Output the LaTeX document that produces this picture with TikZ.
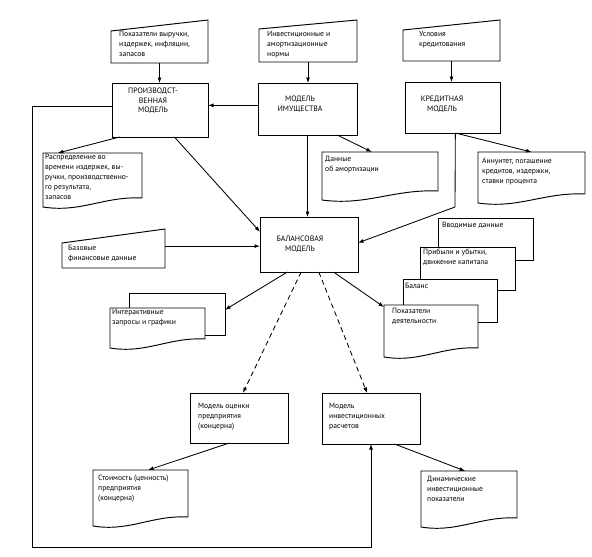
\documentclass[tikz,border=0pt]{standalone}
\usepackage{fontspec}
\setmainfont{PT Sans}
\usetikzlibrary{arrows.meta,calc,fit}
\newcommand\bbnode[5]{\path (#2,#3) coordinate (#1-a) (#4,#5) coordinate (#1-b);
  \node[fit=(#1-a)(#1-b), inner sep=0pt, outer sep=0pt] (#1) {};}
\newcommand\procbox[5]{\bbnode{#1}{#2}{#3}{#4}{#5}\draw[shp] (#1.north west) rectangle (#1.south east);}
\newcommand\maninput[6]{\draw[shp] (#2,#3) -- (#4,#5) -- (#4,#6) -- (#2,#6) -- cycle;
  \bbnode{#1}{#2}{#5}{#4}{#6}}
\newcommand\docshape[5]{\draw[shp] (#2,#3) -- (#4,#3) -- (#4,#5-9)
  .. controls ({#4-0.38*(#4-#2)},#5-11) and ({#2+0.38*(#4-#2)},#5+6) .. (#2,#5) -- cycle;
  \bbnode{#1}{#2}{#3}{#4}{#5}}
\begin{document}
\begin{tikzpicture}[x=1pt,y=-1pt,
  shp/.style={draw, line width=0.95pt, fill=white},
  arr/.style={draw, line width=0.85pt, -{Latex[length=5.5pt,width=4pt]}},
  darr/.style={arr, dash pattern=on 5pt off 3.5pt},
  lbl/.style={font=\fontsize{7.6}{10}\selectfont, align=left, inner sep=0pt, anchor=north west},
  ttl/.style={font=\fontsize{7.8}{9.5}\selectfont, align=center, inner sep=0pt}]
\useasboundingbox (0,0) rectangle (592,557);

% top inputs
\maninput{in1}{111}{31}{208}{20}{63}
\node[lbl] (t-in1) at (119,31) {Показатели выручки,\\издержек, инфляции,\\запасов};
\maninput{in2}{259}{29}{357}{20}{62}
\node[lbl] (t-in2) at (267,31) {Инвестиционные и\\амортизационные\\нормы};
\maninput{in3}{403}{30}{500}{20}{61}
\node[lbl] (t-in3) at (419,31) {Условия\\кредитования};

% models
\procbox{prod}{112}{83}{208}{137}
\node[ttl] (t-prod) at (153,101) {ПРОИЗВОДСТ-\\ВЕННАЯ\\МОДЕЛЬ};
\procbox{prop}{258}{83}{357}{135}
\node[ttl] (t-prop) at (300,104) {МОДЕЛЬ\\ИМУЩЕСТВА};
\procbox{cred}{405}{82}{500}{133}
\node[ttl] (t-cred) at (442,104) {КРЕДИТНАЯ\\МОДЕЛЬ};

% documents row 2
\docshape{distr}{43}{153}{142}{207}
\node[lbl] (t-distr) at (45,154) {Распределение во\\времени издержек, вы-\\ручки, производственно-\\го результата,\\запасов};
\docshape{amort}{322}{152}{438}{200}
\node[lbl] (t-amort) at (325,156) {Данные\\об амортизации};
\docshape{ann}{478}{152}{585}{203}
\node[lbl] (t-ann) at (482,158) {Аннуитет, погашение\\кредитов, издержки,\\ставки процента};

% balance model
\procbox{bal}{260}{217}{358}{272}
\node[ttl] (t-bal) at (300,244) {БАЛАНСОВАЯ\\МОДЕЛЬ};
\maninput{base}{62}{243}{165}{229}{268}
\node[lbl] (t-base) at (68,245) {Базовые\\финансовые данные};

% stacked reports
\procbox{s1}{438}{218}{533}{260}
\node[lbl] (t-s1) at (442,222) {Вводимые данные};
\procbox{s2}{420}{247}{515}{290}
\node[lbl] (t-s2) at (423,249) {Прибыли и убытки,\\движение капитала};
\procbox{s3}{403}{279}{497}{322}
\node[lbl] (t-s3) at (405,283) {Баланс};
\docshape{s4}{384}{305}{478}{357}
\node[lbl] (t-s4) at (392,308) {Показатели\\деятельности};

% interactive
\procbox{int2}{129}{293}{225}{335}
\docshape{int1}{110}{308}{205}{348}
\node[lbl] (t-int) at (112,309) {Интерактивные\\запросы и графики};

% lower models
\procbox{val}{190}{393}{288}{443}
\node[lbl] (t-val) at (198,403) {Модель оценки\\предприятия\\(концерна)};
\procbox{inv}{322}{393}{420}{444}
\node[lbl] (t-inv) at (329,403) {Модель\\инвестиционных\\расчетов};
\docshape{cost}{93}{470}{188}{526}
\node[lbl] (t-cost) at (98,475) {Стоимость (ценность)\\предприятия\\(концерна)};
\docshape{dyn}{421}{471}{517}{527}
\node[lbl] (t-dyn) at (427,476) {Динамические\\инвестиционные\\показатели};

% connectors
\draw[arr] (in1.south) -- (in1.south |- prod.north);
\draw[arr] (in2.south) -- (in2.south |- prop.north);
\draw[arr] (in3.south) -- (in3.south |- cred.north);
\coordinate (pp) at ($(prop.north west)!0.43!(prop.south west)$);
\draw[arr] (pp) -- (pp -| prod.east);
\coordinate (loopc) at (32,547);
\draw[arr] ($(prod.north west)!0.43!(prod.south west)$) -| (loopc) -| (inv.south);
\draw[arr] ($(prod.south west)!0.08!(prod.south east)$) -- ($(distr.north west)!0.15!(distr.north east)$);
\draw[arr] ($(prod.south west)!0.65!(prod.south east)$) -- ($(bal.north west)!0.27!(bal.south west)$);
\draw[arr] (prop.south) -- (prop.south |- bal.north);
\draw[arr] ($(prop.south west)!0.8!(prop.south east)$) -- ($(amort.north west)!0.43!(amort.north east)$);
\coordinate (credout) at ($(cred.south west)!0.53!(cred.south east)$);
\coordinate (credbend) at (455,207);
\draw[arr] (credout) -- (credbend) -- ($(bal.north east)!0.47!(bal.south east)$);
\draw[arr] (credout) -- (ann.north);
\coordinate (bw) at ($(bal.north west)!0.53!(bal.south west)$);
\draw[arr] (base.east |- bw) -- (bw);
\draw[arr] ($(bal.south west)!0.28!(bal.south east)$) -- ($(int2.north east)!0.4!(int2.south east)$);
\draw[arr] ($(bal.south west)!0.75!(bal.south east)$) -- ($(s4.north west)!0.04!(s4.south west)$);
\draw[darr] ($(bal.south west)!0.42!(bal.south east)$) -- ($(val.north west)!0.54!(val.north east)$);
\draw[darr] ($(bal.south west)!0.6!(bal.south east)$) -- ($(inv.north west)!0.46!(inv.north east)$);
\draw[arr] ($(val.south west)!0.4!(val.south east)$) -- ($(cost.north west)!0.58!(cost.north east)$);
\draw[arr] ($(inv.south west)!0.74!(inv.south east)$) -- ($(dyn.north west)!0.46!(dyn.north east)$);
\end{tikzpicture}
\end{document}
